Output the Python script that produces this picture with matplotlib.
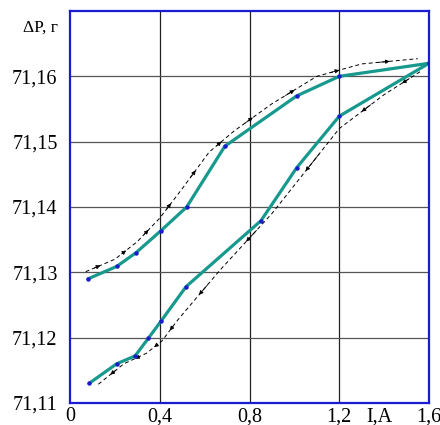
import numpy as np
import matplotlib
matplotlib.use("Agg")
import matplotlib.pyplot as plt

# --- data -------------------------------------------------------------------
up_x = [0.08, 0.208, 0.294, 0.406, 0.52, 0.69, 1.01, 1.2, 1.6]
up_y = [71.129, 71.1309, 71.1330, 71.1364, 71.1400, 71.1493, 71.1570, 71.1600, 71.1620]

dn_x = [0.085, 0.208, 0.29, 0.349, 0.407, 0.517, 0.851, 1.01, 1.2, 1.6]
dn_y = [71.1130, 71.1160, 71.1172, 71.1199, 71.1226, 71.1278, 71.1379, 71.1460, 71.1539, 71.1620]

# dashed "direction" guides (arrows point right on the upper one, left on the lower one)
up_dash_x = [0.07, 0.2, 0.3, 0.4, 0.5, 0.62, 0.73, 0.9, 1.1, 1.3, 1.55]
up_dash_y = [71.1301, 71.1320, 71.1347, 71.1383, 71.1428, 71.1484, 71.1516, 71.1558, 71.1600, 71.1619, 71.1627]
dn_dash_x = [1.56, 1.4, 1.2, 0.9, 0.67, 0.48, 0.41, 0.34, 0.24, 0.12]
dn_dash_y = [71.1607, 71.1572, 71.1520, 71.1390, 71.1304, 71.1227, 71.1195, 71.1176, 71.1160, 71.1127]

x_ticks = [0, 0.4, 0.8, 1.2, 1.6]
x_labels = ["0", "0,4", "0,8", "1,2", "1,6"]
y_ticks = [71.11, 71.12, 71.13, 71.14, 71.15, 71.16]
y_labels = ["71,11", "71,12", "71,13", "71,14", "71,15", "71,16"]

TEAL = "#17998d"
BLUE = "#1a1ad0"

plt.rcParams["font.family"] = ["Liberation Serif", "DejaVu Serif"]

fig = plt.figure(figsize=(4.4, 4.25), dpi=100)
ax = fig.add_axes([70 / 440, 1 - 403 / 425, 359 / 440, 392 / 425])

ax.set_xlim(0, 1.6)
ax.set_ylim(71.11, 71.17)

# grid
for xv in x_ticks[1:-1]:
    ax.axvline(xv, color="#222222", lw=0.9, zorder=1)
for yv in y_ticks[1:]:
    ax.axhline(yv, color="#555555", lw=0.9, zorder=1)

# dashed guides with arrowheads
def guide(xs, ys):
    ax.plot(xs, ys, color="black", lw=0.7, ls=(0, (4, 3)), zorder=2)
    for i in range(len(xs) - 1):
        xm = (xs[i] + xs[i + 1]) / 2
        ym = (ys[i] + ys[i + 1]) / 2
        ax.annotate("", xy=(xm, ym),
                    xytext=(xm - (xs[i + 1] - xs[i]) * 0.2, ym - (ys[i + 1] - ys[i]) * 0.2),
                    arrowprops=dict(arrowstyle="-|>", color="black", lw=0.6,
                                    mutation_scale=6, shrinkA=0, shrinkB=0),
                    zorder=2)

guide(up_dash_x, up_dash_y)
guide(dn_dash_x, dn_dash_y)

ax.plot(up_x, up_y, color=TEAL, lw=2.3, zorder=3, solid_capstyle="round")
ax.plot(dn_x, dn_y, color=TEAL, lw=2.3, zorder=3, solid_capstyle="round")
ax.plot(up_x, up_y, ls="none", marker="o", ms=2.2, color=BLUE, zorder=4)
ax.plot(dn_x, dn_y, ls="none", marker="o", ms=2.2, color=BLUE, zorder=4)

ax.set_xticks(x_ticks)
ax.set_xticklabels(x_labels)
ax.set_yticks(y_ticks)
ax.set_yticklabels(y_labels)
ax.tick_params(axis="both", length=0, labelsize=14.5)
ax.tick_params(axis="y", pad=9)
ax.tick_params(axis="x", pad=3)

for s in ax.spines.values():
    s.set_color(BLUE)
    s.set_linewidth(1.6)

ax.annotate("I,A", xy=(1.38, 0), xycoords=("data", "axes fraction"),
            xytext=(0, -3), textcoords="offset points",
            fontsize=14.5, ha="center", va="top", annotation_clip=False)
ax.text(-0.055, 71.1675, "ΔP, г", fontsize=12.5, ha="right", va="center",
        clip_on=False)

fig.savefig("out.png", dpi=100)
